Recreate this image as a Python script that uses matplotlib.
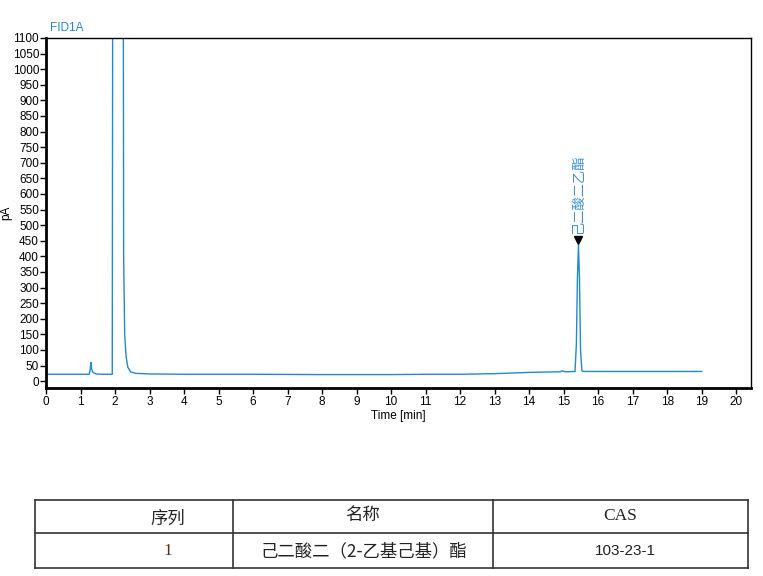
import matplotlib.pyplot as plt
from matplotlib.lines import Line2D

plt.rcParams['font.family'] = ['Liberation Sans', 'Noto Sans CJK SC', 'DejaVu Sans']

# chromatogram points (time in min, signal in pA)
time_min = [0.0, 1.0, 1.25, 1.28, 1.30, 1.32, 1.35, 1.38, 1.45, 1.6, 1.92,
            1.95, 2.22, 2.25, 2.28, 2.32, 2.37, 2.45, 2.6, 3.0, 4.0, 5.0,
            6.0, 8.0, 10.0, 11.0, 12.0, 13.0, 14.0, 14.9, 14.95, 15.05,
            15.33, 15.37, 15.40, 15.43, 15.46, 15.49, 15.53, 15.6, 16.0,
            17.0, 18.0, 19.0]
signal_pa = [22, 22, 22, 35, 60, 40, 30, 27, 23, 22, 22,
             3000, 3000, 400, 150, 80, 45, 30, 25, 23, 22, 22,
             22, 21, 21, 22, 22, 24, 28, 30, 33, 30,
             31, 120, 330, 436, 330, 100, 33, 31, 31,
             31, 31, 31]

peak_time = 15.43
peak_label = '己二酸二乙酯'

table_header = ['序列', '名称', 'CAS']
table_row = ['1', '己二酸二（2-乙基己基）酯', '103-23-1']

blue = '#1f8ad0'

fig = plt.figure(figsize=(7.63, 5.76), dpi=100)
ax = fig.add_axes([46/763, 1-388/576, 705/763, 350/576])

ax.plot(time_min, signal_pa, color=blue, linewidth=1.0)
ax.plot([peak_time], [452], marker='v', color='black', markersize=6)
ax.text(peak_time, 472, peak_label, rotation=90, color='#3a93cf', fontsize=9.5,
        ha='center', va='bottom', family=['Noto Sans CJK SC', 'DejaVu Sans'])

ax.set_xlim(0, 20.43)
ax.set_ylim(-22, 1100)
ax.set_xticks(range(0, 21))
ax.set_yticks(range(0, 1101, 50))
ax.tick_params(labelsize=8.5, length=4, width=1, direction='out', pad=2)
ax.tick_params(axis='y', pad=1)
for side in ['left', 'bottom']:
    ax.spines[side].set_linewidth(2)
for side in ['top', 'right']:
    ax.spines[side].set_linewidth(1)
ax.set_xlabel('Time [min]', fontsize=8.5, labelpad=1)
ax.set_ylabel('pA', fontsize=8.5, labelpad=0)
ax.yaxis.set_label_coords(-0.048, 0.5)
ax.text(0.006, 1.012, 'FID1A', transform=ax.transAxes, color=blue, fontsize=8.5,
        ha='left', va='bottom')

# table under the chart (pixel positions -> figure fractions)
W, H = 763, 576
cols = [35, 233, 493, 748]
rows = [500, 533, 568]
for y in rows:
    fig.add_artist(Line2D([cols[0]/W, cols[-1]/W], [1-y/H, 1-y/H], color='#333333', lw=1.2))
for x in cols:
    fig.add_artist(Line2D([x/W, x/W], [1-rows[0]/H, 1-rows[-1]/H], color='#333333', lw=1.2))

cjk = ['Noto Sans CJK SC', 'DejaVu Sans']
fig.text(168/W, 1-519/H, table_header[0], ha='center', va='center', fontsize=12.5, family=cjk, color='#222222')
fig.text(363/W, 1-515/H, table_header[1], ha='center', va='center', fontsize=12.5, family=cjk, color='#222222')
fig.text(620/W, 1-516/H, table_header[2], ha='center', va='center', fontsize=12.5, family=['Liberation Sans Narrow', 'Liberation Serif'], color='#222222')
fig.text(168/W, 1-551/H, table_row[0], ha='center', va='center', fontsize=12.5, family=['Liberation Serif'], color='#5a2a1a')
fig.text(364/W, 1-551/H, table_row[1], ha='center', va='center', fontsize=12.5, family=cjk, color='#222222')
fig.text(625/W, 1-551/H, table_row[2], ha='center', va='center', fontsize=11, family=['Liberation Sans'], color='#222222')

fig.savefig('out.png', dpi=100)
